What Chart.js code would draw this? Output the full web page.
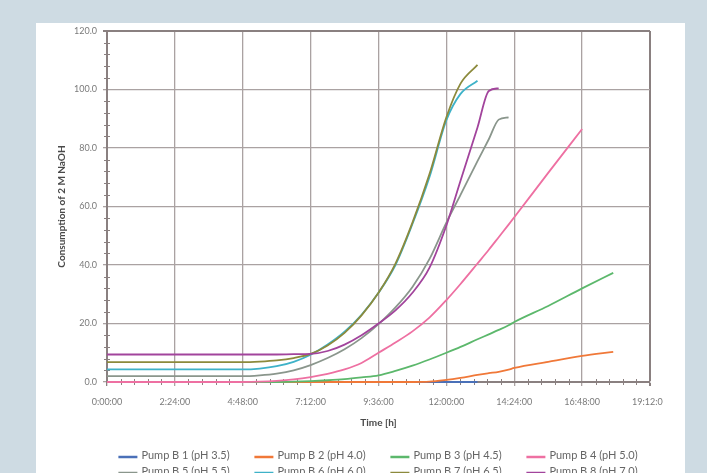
<!DOCTYPE html>
<html>
<head>
<meta charset="utf-8">
<script src="https://cdn.jsdelivr.net/npm/chart.js@4.4.1/dist/chart.umd.min.js"></script>
<style>
  html, body { margin: 0; padding: 0; }
  body { width: 707px; height: 473px; background: #cedbe3; position: relative; overflow: hidden; }
  #panel { position: absolute; left: 36px; top: 23px; width: 649px; height: 450px; background: #ffffff; }
  #c { position: absolute; left: 0; top: 0; }
</style>
</head>
<body>
<div id="panel"><canvas id="c" width="627" height="450"></canvas></div>
<script>
// ---- data (hours since start) ----
const hours = [0, 2.4, 4.8, 5.4, 6.0, 6.6, 7.2, 7.8, 8.4, 9.0, 9.6, 10.2, 10.8, 11.4, 12.0, 12.5, 13.1, 13.5, 13.85, 14.2, 14.4, 15.6, 16.8, 17.9];

const pumpB1 = [0, 0, 0, 0, 0, 0, 0, 0, 0, 0, 0, 0, 0, 0, 0, 0, 0, null, null, null, null, null, null, null];
const pumpB2 = [0, 0, 0, 0, 0, 0, 0, 0, 0, 0, 0, 0, 0, 0.1, 0.7, 1.4, 2.4, 3.0, 3.5, 4.2, 4.8, 6.9, 8.9, 10.3];
const pumpB3 = [0, 0, 0, 0, 0, 0.1, 0.3, 0.6, 1.0, 1.6, 2.3, 3.8, 5.6, 7.7, 10.0, 12.0, 14.6, 16.3, 17.8, 19.4, 20.5, 26.0, 32.0, 37.3];
const pumpB4 = [0, 0, 0, 0.1, 0.4, 0.9, 1.7, 2.8, 4.3, 6.5, 10.0, 13.5, 17.3, 22.0, 28.0, 33.5, 40.5, 45.2, 49.5, 53.8, 56.3, 71.5, 86.5, null];
const pumpB5 = [2.0, 2.0, 2.0, 2.3, 2.9, 4.0, 5.8, 8.2, 11.2, 15.0, 19.8, 25.5, 32.5, 42.0, 54.5, 64.0, 75.5, 83.0, 89.7, 90.5, null, null, null, null];
const pumpB6 = [4.3, 4.3, 4.3, 4.6, 5.4, 6.9, 9.3, 12.8, 17.2, 23.0, 30.5, 40.0, 54.0, 70.0, 89.5, 98.5, 103.0, null, null, null, null, null, null, null];
const pumpB7 = [6.8, 6.8, 6.8, 7.0, 7.4, 8.2, 9.6, 12.5, 16.8, 22.8, 30.5, 40.5, 54.5, 71.0, 90.5, 102.0, 108.4, null, null, null, null, null, null, null];
const pumpB8 = [9.4, 9.4, 9.4, 9.4, 9.4, 9.5, 9.6, 10.6, 12.8, 16.0, 20.0, 24.5, 30.5, 39.0, 53.5, 68.8, 87.0, 99.5, 100.4, null, null, null, null, null];

const seriesNames = ['Pump B 1 (pH 3.5)', 'Pump B 2 (pH 4.0)', 'Pump B 3 (pH 4.5)', 'Pump B 4 (pH 5.0)',
                     'Pump B 5 (pH 5.5)', 'Pump B 6 (pH 6.0)', 'Pump B 7 (pH 6.5)', 'Pump B 8 (pH 7.0)'];
const seriesValues = [pumpB1, pumpB2, pumpB3, pumpB4, pumpB5, pumpB6, pumpB7, pumpB8];
const seriesColors = ['#4a70b8', '#f07838', '#5cb86c', '#ee70a2', '#8a968c', '#3eb2c8', '#8c8a3c', '#a2449c'];

const xTickHours = [0, 2.4, 4.8, 7.2, 9.6, 12.0, 14.4, 16.8, 19.2];
const yTickValues = [0, 20, 40, 60, 80, 100, 120];

// ---- styling ----
const GRID = '#aaa2a2';
const FRAME = '#8a8080';
const TICK_TXT = '#7a7a7a';
const TITLE_TXT = '#4a4a4a';
const FONT = 'Lato';

function fmtTime(h) {
  const m = Math.round(h * 60);
  const hh = Math.floor(m / 60);
  const mm = m % 60;
  return hh + ':' + String(mm).padStart(2, '0') + ':00';
}

const datasets = seriesNames.map((name, i) => ({
  label: name,
  data: hours.map((h, k) => ({ x: h, y: seriesValues[i][k] })),
  borderColor: seriesColors[i],
  backgroundColor: seriesColors[i],
  borderWidth: 1.8,
  pointRadius: 0,
  fill: false,
  spanGaps: false,
  clip: false,
  cubicInterpolationMode: 'monotone',
  order: seriesNames.length - i
}));

const minorTicks = {
  id: 'minorTicks',
  beforeDatasetsDraw(chart) {
    const { ctx, chartArea } = chart;
    const xs = chart.scales.x, ys = chart.scales.y;
    ctx.save();
    ctx.strokeStyle = FRAME;
    ctx.lineWidth = 1;
    for (let k = 1; k < 40; k++) {
      if (k % 5 === 0) continue;
      const px = Math.round(xs.getPixelForValue(k * 0.48)) + 0.5;
      ctx.beginPath();
      ctx.moveTo(px, chartArea.bottom - 3);
      ctx.lineTo(px, chartArea.bottom + 3);
      ctx.stroke();
    }
    for (let k = 1; k < 30; k++) {
      if (k % 5 === 0) continue;
      const py = Math.round(ys.getPixelForValue(k * 4)) + 0.5;
      ctx.beginPath();
      ctx.moveTo(chartArea.left - 3, py);
      ctx.lineTo(chartArea.left + 3, py);
      ctx.stroke();
    }
    ctx.restore();
  }
};

const gridLegend = {
  id: 'gridLegend',
  afterDraw(chart) {
    const { ctx, chartArea } = chart;
    const colW = 136;
    const ds = chart.data.datasets;
    ctx.save();
    ctx.font = '11px ' + FONT;
    ctx.textBaseline = 'middle';
    ctx.textAlign = 'left';
    const lastW = 24 + ctx.measureText(ds[3].label).width;
    const totalW = 3 * colW + lastW;
    const cx = (chartArea.left + chartArea.right) / 2;
    const x0 = cx - totalW / 2;
    const rowY = [chartArea.bottom + 73, chartArea.bottom + 89];
    ds.forEach((d, i) => {
      const col = i % 4, row = Math.floor(i / 4);
      const x = x0 + col * colW;
      const y = rowY[row];
      ctx.strokeStyle = d.borderColor;
      ctx.lineWidth = 2.5;
      ctx.beginPath();
      ctx.moveTo(x, y + 2);
      ctx.lineTo(x + 19, y + 2);
      ctx.stroke();
      ctx.fillStyle = '#666666';
      ctx.fillText(d.label, x + 23, y);
    });
    ctx.restore();
  }
};

new Chart(document.getElementById('c'), {
  type: 'line',
  data: { datasets },
  options: {
    responsive: false,
    devicePixelRatio: 1,
    animation: false,
    events: [],
    layout: { padding: { top: 8, right: 13, left: 0, bottom: 0 } },
    plugins: { legend: { display: false }, tooltip: { enabled: false } },
    scales: {
      x: {
        type: 'linear',
        min: 0,
        max: 19.2,
        afterBuildTicks(scale) { scale.ticks = xTickHours.map(v => ({ value: v })); },
        afterFit(scale) { scale.height = 91; scale.paddingLeft = 0; scale.paddingRight = 0; },
        ticks: {
          autoSkip: false, maxRotation: 0, minRotation: 0, padding: 11,
          color: TICK_TXT, font: { family: FONT, size: 9 },
          callback: v => fmtTime(v)
        },
        grid: {
          color: c => (c.index === 0 || c.index === xTickHours.length - 1) ? FRAME : GRID,
          lineWidth: c => (c.index === xTickHours.length - 1) ? 2 : 1.3,
          tickLength: 4, drawTicks: true
        },
        border: { display: true, color: FRAME, width: 2 },
        title: {
          display: true, text: 'Time [h]', color: TITLE_TXT,
          font: { family: FONT, size: 10, weight: 'bold' },
          padding: { top: 0, bottom: 44 }
        }
      },
      y: {
        type: 'linear',
        min: 0,
        max: 120,
        afterBuildTicks(scale) { scale.ticks = yTickValues.map(v => ({ value: v })); },
        afterFit(scale) { scale.width = 71; scale.paddingTop = 0; scale.paddingBottom = 0; },
        ticks: {
          padding: 6, color: TICK_TXT, font: { family: FONT, size: 9 },
          callback: v => Number(v).toFixed(1)
        },
        grid: {
          color: c => (c.tick && c.tick.value === 120) ? FRAME : GRID,
          lineWidth: c => (c.tick && c.tick.value === 120) ? 2 : 1.3,
          tickLength: 4, drawTicks: true
        },
        border: { display: true, color: FRAME, width: 2 },
        title: {
          display: true, text: 'Consumption of 2 M NaOH', color: TITLE_TXT,
          font: { family: FONT, size: 10, weight: 'bold' },
          padding: { top: 20, bottom: 0 }
        }
      }
    }
  },
  plugins: [minorTicks, gridLegend]
});
</script>
</body>
</html>
